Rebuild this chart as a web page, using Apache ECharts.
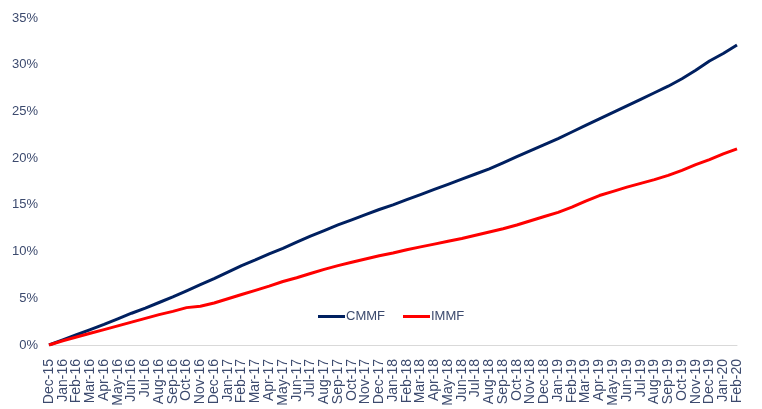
<!DOCTYPE html>
<html>
<head>
<meta charset="utf-8">
<script src="https://cdn.jsdelivr.net/npm/echarts@6/dist/echarts.min.js"></script>
<style>
  html, body { margin: 0; padding: 0; background: #fff; }
  #chart { width: 762px; height: 409px; }
</style>
</head>
<body>
<div id="chart"></div>
<script>
const months = ['Dec-15',
  'Jan-16', 'Feb-16', 'Mar-16', 'Apr-16', 'May-16', 'Jun-16', 'Jul-16', 'Aug-16', 'Sep-16', 'Oct-16', 'Nov-16', 'Dec-16',
  'Jan-17', 'Feb-17', 'Mar-17', 'Apr-17', 'May-17', 'Jun-17', 'Jul-17', 'Aug-17', 'Sep-17', 'Oct-17', 'Nov-17', 'Dec-17',
  'Jan-18', 'Feb-18', 'Mar-18', 'Apr-18', 'May-18', 'Jun-18', 'Jul-18', 'Aug-18', 'Sep-18', 'Oct-18', 'Nov-18', 'Dec-18',
  'Jan-19', 'Feb-19', 'Mar-19', 'Apr-19', 'May-19', 'Jun-19', 'Jul-19', 'Aug-19', 'Sep-19', 'Oct-19', 'Nov-19', 'Dec-19',
  'Jan-20', 'Feb-20']

// cumulative return, %
const cmmf = [0,
  0.55, 1.1, 1.65, 2.2, 2.8, 3.4, 3.95, 4.55, 5.15, 5.8, 6.45, 7.1,
  7.8, 8.5, 9.1, 9.75, 10.35, 11.0, 11.65, 12.25, 12.85, 13.4, 13.95, 14.5,
  15.0, 15.55, 16.1, 16.65, 17.2, 17.75, 18.3, 18.85, 19.5, 20.15, 20.8, 21.45,
  22.1, 22.8, 23.5, 24.2, 24.9, 25.6, 26.3, 27.0, 27.7, 28.5, 29.4, 30.4,
  31.2, 32.1]
const immf = [0,
  0.45, 0.85, 1.25, 1.65, 2.05, 2.45, 2.85, 3.25, 3.6, 4.0, 4.15, 4.5,
  4.95, 5.4, 5.85, 6.3, 6.8, 7.2, 7.65, 8.1, 8.5, 8.85, 9.2, 9.55,
  9.85, 10.2, 10.5, 10.8, 11.1, 11.4, 11.75, 12.1, 12.45, 12.85, 13.3, 13.75,
  14.2, 14.75, 15.4, 16.0, 16.45, 16.9, 17.3, 17.7, 18.15, 18.7, 19.3, 19.85,
  20.45, 21.0]

const textColor = '#3c4a6e'
const chart = echarts.init(document.getElementById('chart'))
chart.setOption({
  animation: false,
  textStyle: { fontFamily: 'Liberation Sans, Arial, sans-serif' },
  grid: { left: 49, right: 25, top: 18, bottom: 64, containLabel: false },
  legend: {
    left: 313,
    top: 305,
    itemWidth: 27,
    itemHeight: 3,
    itemGap: 18,
    icon: 'rect',
    textStyle: { color: textColor, fontSize: 13, padding: [0, 0, 0, -4] },
    data: ['CMMF', 'IMMF']
  },
  xAxis: {
    type: 'category',
    data: months,
    boundaryGap: false,
    axisLine: { lineStyle: { color: '#d9d9d9', width: 1 } },
    axisTick: { show: false },
    axisLabel: {
      interval: 0,
      rotate: 90,
      margin: 14,
      color: textColor,
      fontSize: 14
    }
  },
  yAxis: {
    type: 'value',
    min: 0,
    max: 35,
    interval: 5,
    axisLine: { show: false },
    axisTick: { show: false },
    splitLine: { show: false },
    axisLabel: {
      margin: 11,
      color: textColor,
      fontSize: 13,
      formatter: '{value}%'
    }
  },
  series: [
    {
      name: 'CMMF',
      type: 'line',
      data: cmmf,
      symbol: 'none',
      itemStyle: { color: '#002060' },
      lineStyle: { color: '#002060', width: 3 }
    },
    {
      name: 'IMMF',
      type: 'line',
      data: immf,
      symbol: 'none',
      itemStyle: { color: '#ff0000' },
      lineStyle: { color: '#ff0000', width: 3 }
    }
  ]
})
window.onresize = function () {
  chart.resize()
}
</script>
</body>
</html>
